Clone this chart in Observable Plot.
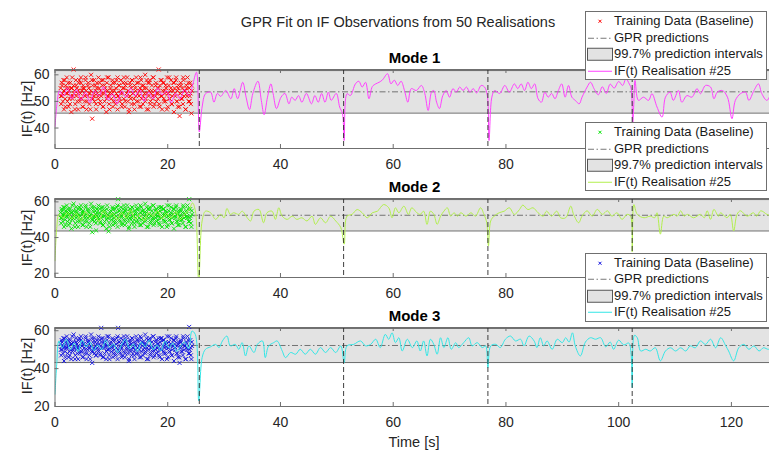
<!DOCTYPE html>
<html><head><meta charset="utf-8">
<script src="https://cdn.jsdelivr.net/npm/d3@7"></script>
<script src="https://cdn.jsdelivr.net/npm/@observablehq/plot@0.6"></script>
<style>
body{margin:0;background:#fff;}
#fig{position:relative;width:769px;height:450px;overflow:hidden;background:#fff;font-family:"Liberation Sans",Arial,sans-serif;color:#262626;}
.abs{position:absolute;white-space:nowrap;line-height:1;}
.title{font-size:14.5px;transform:translate(-50%,-50%);}
.mode{font-size:15px;font-weight:bold;transform:translate(-50%,-50%);color:#000;}
.ylab{font-size:14.5px;transform:translate(-50%,-50%) rotate(-90deg);}
.leg{position:absolute;left:585px;width:180px;height:67px;background:#fff;border:1px solid #6f6f6f;font-size:13px;color:#1a1a1a;}
.row{position:absolute;left:0;width:180px;height:16.5px;line-height:16.5px;}
.row svg{position:absolute;left:1px;top:0;}
.row span{position:absolute;left:28px;top:0;white-space:nowrap;}
</style></head><body><div id="fig"></div>
<script>
// ---------- data ----------
const chartTitle = "GPR Fit on IF Observations from 50 Realisations";
const modes = ["Mode 1", "Mode 2", "Mode 3"];
const yLabel = "IF(t) [Hz]";
const xLabel = "Time [s]";
const legendLabels = ["Training Data (Baseline)", "GPR predictions", "99.7% prediction intervals", "IF(t) Realisation #25"];
const timeRange = [0, 128];
const xTicks = [0, 20, 40, 60, 80, 100, 120];
// tick labels left visible (100 and 120 sit under the legends in panels 1 and 2)
const xTickLabels1 = [0, 20, 40, 60, 80];
const xTickLabels2 = [0, 20, 40, 60, 80];
const xTickLabels3 = [0, 20, 40, 60, 80, 100, 120];
const yTicks1 = [40, 50, 60];
const yTicks2 = [20, 40, 60];
const yTicks3 = [20, 40, 60];
const yDomain1 = [32.3, 62];
const yDomain2 = [17.6, 61.9];
const yDomain3 = [20, 61.7];
const band1 = [45.6, 61.6];
const band2 = [43.7, 61.3];
const band3 = [43.2, 61.2];
const gprMean = [53.6, 52.5, 52.2];
const boundaries = [25.6, 51.2, 76.8, 102.4];
const scatterColors = ["#ff0000", "#00e600", "#1010e0"];
const lineColors = ["#ff40ff", "#b2ef4d", "#33e6e6"];

const trainTime = [1.0,1.1,1.2,1.2,1.3,1.5,1.6,1.6,1.8,1.9,
2.0,2.1,2.2,2.4,2.4,2.5,2.7,2.8,2.9,3.0,
3.1,3.3,3.3,3.4,3.6,3.7,3.8,3.9,4.1,4.1,
4.2,4.4,4.5,4.6,4.7,4.9,4.9,5.0,5.2,5.3,
5.4,5.5,5.6,5.8,5.9,6.0,6.1,6.2,6.4,6.5,
6.6,6.7,6.9,6.9,7.0,7.2,7.3,7.4,7.5,7.7,
7.7,7.9,8.0,8.1,8.2,8.4,8.5,8.5,8.7,8.8,
8.9,9.1,9.2,9.3,9.3,9.5,9.6,9.7,9.9,10.0,
10.1,10.2,10.3,10.5,10.6,10.7,10.8,10.9,11.1,11.1,
11.2,11.4,11.5,11.6,11.7,11.9,11.9,12.1,12.2,12.3,
12.4,12.5,12.7,12.8,12.9,13.0,13.1,13.3,13.3,13.5,
13.6,13.7,13.8,14.0,14.1,14.1,14.3,14.4,14.5,14.7,
14.8,14.9,15.0,15.1,15.3,15.4,15.5,15.6,15.7,15.9,
16.0,16.0,16.2,16.3,16.5,16.6,16.7,16.8,16.9,17.1,
17.2,17.3,17.4,17.5,17.7,17.8,17.9,18.0,18.2,18.3,
18.4,18.5,18.6,18.8,18.9,19.0,19.1,19.3,19.3,19.5,
19.6,19.7,19.9,20.0,20.1,20.2,20.3,20.5,20.6,20.7,
20.8,21.0,21.1,21.2,21.3,21.5,21.6,21.7,21.8,21.9,
22.1,22.2,22.3,22.4,22.6,22.7,22.8,22.9,23.1,23.2,
23.3,23.4,23.5,23.7,23.8,23.9,24.0,24.1,24.2,24.3,
1.05,1.25,1.4,1.55,1.7,1.85,2.05,2.2,2.35,2.55,
2.65,2.85,3.05,3.2,3.45,3.55,3.75,3.95,4.05,4.3,
4.45,4.6,4.8,4.95,5.15,5.35,5.45,5.65,5.85,6.05,
6.25,6.35,6.55,6.75,6.95,7.15,7.25,7.45,7.65,7.85,
8.05,8.25,8.35,8.55,8.75,8.95,9.15,9.25,9.45,9.65,
9.85,10.05,10.25,10.35,10.55,10.75,10.95,11.15,11.35,11.45,
11.65,11.85,12.05,12.25,12.45,12.55,12.75,12.95,13.15,13.35,
13.45,13.65,13.85,14.05,14.25,14.35,14.55,14.75,14.95,15.15,
15.25,15.45,15.65,15.85,16.05,16.25,16.35,16.55,16.75,16.95,
17.15,17.35,17.45,17.65,17.85,18.05,18.25,18.35,18.55,18.75,
18.95,19.15,19.35,19.45,19.65,19.85,20.05,20.25,20.35,20.55,
20.75,20.95,21.15,21.35,21.45,21.65,21.85,22.05,22.25,22.35,
22.55,22.75,22.95,23.15,23.35,23.45,23.65,23.85,24.05,24.25];

const trainMode1 = [55,49,57,52,53,58,47,54,51,56,
53,59,50,55,48,54,57,52,46,55,
51,62,56,53,49,58,52,55,47,54,
57,50,53,59,51,55,48,56,53,50,
58,54,47,52,57,55,49,53,60,51,
43.5,56,52,58,50,54,47,55,53,59,
51,57,49,54,52,56,48,58,53,50,
55,46,57,52,54,59,49,53,56,51,
54,58,48,52,57,50,55,53,47,59,
52,56,50,54,58,49,53,57,51,55,
48,56,53,59,50,54,46,57,52,55,
49,58,53,51,56,47,54,59,50,53,
57,52,48,55,58,51,54,49,56,53,
60,50,55,47,57,52,54,58,49,53,
56,51,59,48,54,52,57,50,55,53,
62,49,56,52,58,47,54,51,57,53,
50,55,59,48,53,56,51,54,58,49,
52,57,46,55,53,59,50,54,48,56,
44.5,53,57,51,55,49,58,52,54,47,
56,53,59,50,55,52,57,49,45.5,54,
52,56,50,54,58,48,55,53,57,51,
49,55,59,52,54,47,56,50,53,58,
51,57,54,48,55,52,59,50,56,53,
47,54,58,51,53,56,49,57,52,55,
50,58,53,48,56,54,51,59,52,47,
55,53,57,50,54,49,58,52,56,51,
53,48,55,59,50,57,52,54,47,56,
51,58,53,49,55,52,57,50,54,59,
48,56,52,55,51,58,53,47,57,50,
54,52,59,49,56,53,51,55,48,58,
52,57,50,54,56,47,53,59,51,55,
49,54,57,52,58,50,55,48,53,56,
51,59,54,47,55,52,57,50,53,56];

const trainMode2 = [54,48,56,51,53,57,46,52,50,55,
52,58,49,54,47,53,56,51,45,54,
50,59,55,52,48,57,51,54,46,53,
56,49,52,58,50,54,47,55,52,49,
57,53,46,51,56,54,48,52,59,50,
43,55,51,57,49,53,44,54,52,58,
50,56,48,53,51,55,47,57,52,49,
54,45,56,51,53,43.5,48,52,55,50,
53,57,47,51,56,49,54,52,46,58,
61.5,55,49,53,57,48,52,56,50,54,
47,55,52,58,49,53,45,56,51,54,
48,57,52,50,55,46,53,58,49,52,
56,51,47,54,57,50,53,48,55,52,
59,49,54,46,56,51,53,57,48,52,
55,50,58,47,53,51,56,49,54,52,
57,48,55,51,57,46,53,50,56,52,
49,54,58,47,52,55,50,53,57,48,
51,56,45,54,52,58,49,53,47,55,
50,52,56,50,54,48,57,51,53,46,
55,52,58,49,61.5,51,56,48,46,53,
51,55,49,53,57,47,54,52,56,50,
48,54,58,51,53,46,55,49,52,57,
50,56,53,47,54,51,58,49,55,52,
46,53,57,50,52,55,48,56,51,54,
49,57,52,47,55,53,50,58,51,46,
54,52,56,49,53,48,57,51,55,50,
52,47,54,58,49,56,51,53,46,55,
50,57,52,48,54,51,56,49,53,58,
47,55,51,54,50,57,52,46,56,49,
53,51,58,48,55,52,50,54,47,57,
51,56,49,53,55,46,52,58,50,54,
48,53,56,51,57,49,54,47,52,55,
50,58,53,46,54,51,56,49,52,55];

const trainMode3 = [53,47,55,50,52,56,44,51,49,54,
51,57,48,53,46,52,55,50,45,53,
49,58,54,51,47,56,50,53,45,52,
55,48,51,57,49,53,46,54,51,48,
56,52,45,50,55,53,47,51,58,49,
43,54,50,56,48,52,47,53,51,57,
49,55,47,52,61.5,54,46,56,51,48,
53,45,55,50,52,57,47,51,54,49,
52,56,46,50,55,48,53,51,45,57,
61.5,54,48,52,56,47,51,55,49,53,
46,54,51,57,48,52,44,55,50,53,
47,56,51,49,54,45,52,57,48,51,
55,50,46,53,56,49,52,47,54,51,
58,48,53,45,55,50,52,56,47,51,
54,49,57,46,52,50,55,48,53,51,
56,47,54,50,56,45,52,49,55,51,
48,53,57,46,51,54,49,52,56,47,
50,55,44,53,51,57,48,52,46,54,
43,51,55,49,53,47,56,50,52,45,
54,51,57,48,62,50,55,47,45,52,
50,54,48,52,56,46,53,51,55,49,
47,53,57,50,52,45,54,48,51,56,
49,55,52,46,53,50,57,48,54,51,
45,52,56,49,51,54,47,55,50,53,
48,56,51,46,54,52,49,57,50,45,
53,51,55,48,52,47,56,50,54,49,
51,46,53,57,48,55,50,52,45,54,
49,56,51,47,53,50,55,48,52,57,
46,54,50,53,49,56,51,45,55,48,
52,50,57,47,54,51,49,53,46,56,
50,55,48,52,54,45,51,57,49,53,
47,52,55,50,56,48,53,46,51,54,
49,57,52,45,53,50,55,48,51,54];

const lineMode1 = [[0,40.5],[0.4,50],[0.8,54],[1.5,52],[2.2,55],[3,51],[3.8,54.5],[4.6,50.5],[5.4,53.5],[6.2,49.5],[7,54],[7.8,52],[8.6,55.5],[9.4,50.5],[10.2,53],[11,49],[11.8,54],[12.6,51.5],[13.4,55],[14.2,52],[15,54.5],[15.8,50],[16.6,53.5],[17.4,51],[18.2,55],[19,52.5],[19.8,54],[20.6,49.5],[21.4,53],[22.2,51],[23,54.5],[23.8,52],[24.4,56],[25.1,61],[25.6,38.5],[26.1,47.9],[26.7,52.9],[27.6,53.5],[28.2,49.7],[28.8,53],[29.4,51.9],[30.3,54.1],[31.2,51],[31.8,54.8],[32.4,51],[33.3,57.2],[33.9,51.6],[34.5,46.9],[35.1,53],[36,57.6],[36.6,50.4],[37.1,45],[37.7,51.6],[38.3,56.6],[38.7,52.9],[39.3,47.3],[40.1,51.6],[40.8,53],[41.5,49.1],[42,51.6],[42.6,50.4],[43.2,52.2],[43.8,49.7],[44.6,53],[45.5,49.1],[46.1,52.2],[46.7,49.7],[47.3,53],[47.9,49.7],[48.5,53.5],[49,50.4],[49.9,53],[50.5,47.9],[51,45.4],[51.3,35.3],[51.8,52.9],[52.4,52.2],[53.3,56.6],[53.9,57.6],[54.5,55.4],[55.1,57.2],[55.7,51],[56.3,55.6],[56.9,56.6],[57.5,57.2],[58.1,58.1],[59,60.4],[59.6,56.6],[60.2,58],[60.8,56],[61.4,57.6],[62,54.1],[62.6,49.7],[63.2,54.8],[64.1,54.1],[65,56],[65.6,53],[66.2,46.6],[66.8,53.5],[67.2,54.1],[67.7,49.7],[68.2,47.3],[68.8,52.2],[69.4,54.1],[70,51.6],[70.6,54.8],[71.2,53.5],[71.8,55.4],[72.4,54.1],[73,55.4],[73.6,53.5],[74.2,54.8],[74.8,53.2],[75.6,56],[76.2,55.4],[76.7,52.2],[77,35.3],[77.5,51.6],[78,54.1],[78.9,53],[79.8,56],[80.6,53.5],[81.5,56.6],[82.1,54.8],[82.7,56.6],[83.3,54.1],[83.9,57.2],[84.5,54.8],[85.1,56.6],[85.7,51],[86.3,49.7],[86.9,53.5],[87.5,51.6],[88.1,53],[88.7,51],[89.3,54.1],[89.9,56.6],[90.5,51.6],[91.1,56],[91.7,51.6],[92.3,50.4],[93,49.1],[93.5,51.6],[94.4,55.4],[95,57.2],[95.7,54.5],[96.4,52.5],[97.1,55.5],[97.8,53],[98.5,56.5],[99.2,55],[100,57.5],[100.7,56],[101.3,58.5],[101.9,56.5],[102.2,55],[102.5,42],[102.7,50],[102.9,57.9],[103.5,50.4],[104.4,51.6],[105.3,50.4],[105.9,52.9],[106.8,47.9],[107.7,44.1],[108.3,51.6],[109.1,53.5],[109.7,50.4],[110.6,54.1],[111.2,49.7],[112.1,52.2],[113,51.6],[113.9,54.8],[114.5,52.9],[115.4,56],[116.3,55.4],[116.9,51],[117.5,53.5],[118.4,54.1],[119.3,51.6],[120.1,43.5],[120.7,50.4],[121.6,52.9],[122.5,53.5],[123.1,50.4],[124,54.1],[124.8,56.6],[125.4,52.9],[126.3,50.4],[127.2,53],[128,52]];

const lineMode2 = [[0,27],[0.3,45],[0.7,53],[1.4,51],[2.2,54],[3,50.5],[3.8,53.5],[4.6,49.5],[5.4,54.5],[6.2,51],[7,53],[7.8,49],[8.6,55],[9.4,51.5],[10.2,53.5],[11,50],[11.8,54],[12.6,51],[13.4,55.5],[14.2,50.5],[15,53],[15.8,49.5],[16.6,54],[17.4,52],[18.2,55],[19,50.5],[19.8,53.5],[20.6,51],[21.4,54.5],[22.2,50],[23,53],[23.7,55],[24.4,59.4],[24.9,55],[25.5,15],[26.1,49.3],[26.7,54.8],[27.6,53.9],[28.5,50.2],[29.4,53],[30,51.1],[30.5,56.3],[31.1,53],[31.7,53.9],[32.6,53],[33.2,54.8],[34.1,51.1],[34.7,49.3],[35.3,54.8],[36.2,55.7],[37,48.3],[37.6,53.9],[38.5,54.8],[39.1,50.2],[39.7,56.7],[40.3,52],[41.2,50.2],[42.1,52],[42.9,50.2],[43.8,51.1],[44.7,49.3],[45.6,52],[46.2,47.4],[47.1,51.1],[48,48.3],[48.9,52],[49.8,49.3],[50.7,45.6],[51.3,36.3],[51.8,52],[52.7,53],[53.6,55.7],[54.5,53.9],[55.4,51.1],[56.3,53.9],[57.2,54.8],[58.3,58.5],[59.2,56.7],[59.8,51.1],[60.4,56.7],[61,53.9],[61.9,57.6],[62.7,53],[63.3,56.7],[64.2,53.9],[64.8,53],[65.4,54.8],[66,47.4],[66.6,54.8],[67.2,53],[67.8,47.4],[68.4,52],[69,54.8],[69.6,56.7],[70.2,52],[70.8,53.9],[71.4,52],[72,53.9],[72.9,52],[73.8,53.9],[74.6,52],[75.5,56.7],[76.1,53],[76.6,48.3],[76.9,35.4],[77.3,49.3],[77.9,52],[78.8,53.9],[79.7,54.8],[80.6,56.7],[81.5,53],[82.4,55.7],[83,58.2],[83.9,55.7],[84.8,56.7],[85.7,53.9],[86.6,52],[87.2,54.8],[88.1,52],[89,54.8],[89.7,51.1],[90.6,51.1],[91.5,57.6],[92,53],[92.9,48.3],[93.5,52],[94.4,55],[95.3,52],[96.2,55.8],[97.1,53],[98,55],[98.8,52],[99.7,53.9],[100.6,50.2],[101.5,53],[102.1,52],[102.4,32],[102.7,58.5],[103.3,53],[104.5,51.1],[105.6,52],[106.4,51.1],[106.8,53.9],[107.4,41.9],[108,52],[108.6,51.1],[109.8,53],[110.4,52],[111,55],[111.6,52],[112.2,53],[113.3,51.1],[114.5,53],[115.2,51.1],[115.7,55],[116.3,50.2],[116.9,55.8],[117.7,52],[118.1,53.9],[119.2,51.1],[119.8,53],[120.4,43.7],[121,53],[121.6,55],[122.8,52],[123.9,53.9],[124.5,52],[125.2,55],[126.3,53],[127.2,52],[128,53]];

const lineMode3 = [[0,26.5],[0.3,42],[0.7,54.6],[1.3,51],[2,55.5],[2.7,50],[3.4,53.5],[4.1,49],[4.8,55],[5.5,51.5],[6.2,54],[6.9,49.5],[7.6,52.5],[8.3,50],[9,55],[9.7,51],[10.4,53],[11.1,48.5],[11.8,52.5],[12.5,55.5],[13.2,50.5],[13.9,53],[14.6,49],[15.3,54],[16,51.5],[16.7,55],[17.4,50],[18.1,52.5],[18.8,49.5],[19.5,54.5],[20.2,51],[20.9,53.5],[21.6,49],[22.3,52],[23,54],[23.7,50.5],[24.3,59.8],[24.9,58],[25.5,23],[26.1,45.8],[26.7,50.2],[27.6,51.5],[28.5,52.8],[29.1,51.1],[29.7,54.6],[30.5,57.2],[31.1,52],[32,52.8],[32.6,50.2],[33.2,53.7],[33.8,46.7],[34.4,52],[35.3,48.5],[35.9,52.8],[36.8,54.6],[37.3,45.8],[37.9,52],[38.8,53.7],[39.4,54.6],[40.3,49.4],[40.9,45.8],[41.8,48.5],[42.7,47.6],[43.5,50.2],[44.4,47.6],[45.3,50.2],[46.2,47.6],[47.1,51.1],[48,48.5],[48.9,51.1],[49.8,48.5],[50.7,52],[51.3,43.2],[51.8,52],[53,52.8],[54.2,54.6],[55.1,52],[56,52.8],[56.9,55.5],[57.7,51.1],[58.6,58.1],[59.2,55.5],[59.8,58.9],[60.4,53.7],[61,56.3],[61.6,49.3],[62.5,55.5],[63.4,51.1],[64.2,54.6],[64.8,49.3],[65.4,54.6],[66,46.7],[66.6,55.5],[67.2,52.8],[67.8,47.6],[68.4,56.3],[69,51.1],[69.7,56.3],[70.3,50.2],[71.1,53.7],[71.6,51.1],[72.5,53.7],[73.4,56.3],[74,52],[74.9,53.7],[75.8,51.1],[76.4,52],[76.8,40.5],[77.3,52],[78.2,52.8],[79,51.1],[79.9,55.5],[80.8,57.2],[81.7,54.6],[82.6,55.5],[83.2,52],[84.1,57.2],[85,54.6],[85.5,51.1],[86.1,56.3],[86.7,52],[87.3,54.6],[88.2,50.2],[89.1,55.5],[90,53.7],[90.6,56.3],[91.2,54],[91.8,58.9],[92.3,52],[93.2,46.7],[94.1,54],[95,56.3],[95.9,55.5],[96.8,56.3],[97.7,51.5],[98.5,54],[99.1,50.2],[100,55],[100.9,52.5],[101.8,53.5],[102.2,47.6],[102.4,30],[102.8,57.6],[103.3,56.3],[103.9,49.3],[104.8,50.2],[105.6,49.3],[106.5,51],[107.4,44.1],[108.3,49.3],[109.2,51],[110.1,49.3],[111,51],[111.9,49.3],[112.7,52],[113.6,51],[114.5,54.6],[115.4,52.8],[116.3,55.5],[117.2,51],[118.1,56.3],[119,52],[119.5,49.3],[120.4,44.1],[121.3,51],[122.2,52.8],[123.1,50.2],[124,52],[124.9,49.3],[125.7,51],[126.6,50.2],[127.4,52],[128,51]];

// ---------- assembly ----------
const trainValues = [trainMode1, trainMode2, trainMode3];
const lineValues = [lineMode1, lineMode2, lineMode3];
const bands = [band1, band2, band3];
const yDomains = [yDomain1, yDomain2, yDomain3];
const yTicks = [yTicks1, yTicks2, yTicks3];
const xTickLabels = [xTickLabels1, xTickLabels2, xTickLabels3];

const fig = document.getElementById("fig");
function addText(cls, text, x, y) {
  const d = document.createElement("div");
  d.className = "abs " + cls;
  d.textContent = text;
  d.style.left = x + "px";
  d.style.top = y + "px";
  fig.appendChild(d);
}

const W = 776, ML = 54.5, MT = 10, MB = 30, BOXH = 79;
const boxTops = [69, 198.3, 326.7];
const axisColor = "#6f6f6f";

function panel(i) {
  const train = trainTime.map((t, k) => ({t, v: trainValues[i][k]}));
  const line = lineValues[i].map(([t, v]) => ({t, v}));
  const bandRow = [{x1: timeRange[0], x2: timeRange[1], lo: bands[i][0], hi: bands[i][1]}];
  const boxW = W - ML;
  const svg = Plot.plot({
    width: W, height: BOXH + MT + MB,
    marginLeft: ML, marginRight: 0, marginTop: MT, marginBottom: MB,
    x: {domain: timeRange},
    y: {domain: yDomains[i]},
    style: {background: "transparent", maxWidth: "none", overflow: "visible",
            fontFamily: "'Liberation Sans', Arial, sans-serif", fontSize: "14px", color: "#262626"},
    marks: [
      Plot.rect(bandRow, {x1: "x1", x2: "x2", y1: "lo", y2: "hi", fill: "#e3e3e3"}),
      Plot.ruleY(bands[i], {stroke: "#6a6a6a", strokeWidth: 1}),
      Plot.ruleY([gprMean[i]], {stroke: "#555", strokeWidth: 0.8, strokeDasharray: "6,2.5,1.5,2.5"}),
      Plot.dot(train, {x: "t", y: "v", symbol: "times", r: 2.0, stroke: scatterColors[i], strokeWidth: 0.9}),
      Plot.line(line, {x: "t", y: "v", stroke: lineColors[i], strokeWidth: 1, curve: "catmull-rom", clip: true}),
      Plot.ruleX(boundaries, {stroke: "#2a2a2a", strokeWidth: 0.9, strokeDasharray: "5,3"}),
      Plot.frame({stroke: axisColor}),
      Plot.ruleX(xTicks, {stroke: axisColor, insetTop: BOXH - 4}),
      Plot.ruleX(xTicks, {stroke: axisColor, insetBottom: BOXH - 4}),
      Plot.ruleY(yTicks[i], {stroke: axisColor, insetRight: boxW - 4}),
      Plot.axisX(xTickLabels[i], {tickSize: 0, tickPadding: 11, label: null, fontSize: 14}),
      Plot.axisY(yTicks[i], {tickSize: 0, tickPadding: 5.5, label: null, fontSize: 14})
    ]
  });
  svg.style.position = "absolute";
  svg.style.left = "0px";
  svg.style.top = (boxTops[i] - MT) + "px";
  fig.appendChild(svg);
}

function legend(i, top) {
  const L = document.createElement("div");
  L.className = "leg";
  L.style.top = top + "px";
  const samples = [
    `<path d="M11.5,6.75l3,3m-3,0l3,-3" stroke="${scatterColors[i]}" stroke-width="1" fill="none"/>`,
    `<line x1="1" x2="25" y1="8.25" y2="8.25" stroke="#555" stroke-width="0.8" stroke-dasharray="6,2.5,1.5,2.5"/>`,
    `<rect x="0.5" y="2.25" width="25" height="12" fill="#e3e3e3" stroke="#555" stroke-width="1"/>`,
    `<line x1="1" x2="25" y1="8.25" y2="8.25" stroke="${lineColors[i]}" stroke-width="1"/>`
  ];
  samples.forEach((s, k) => {
    const r = document.createElement("div");
    r.className = "row";
    r.style.top = (1.35 + 16.5 * k) + "px";
    r.innerHTML = `<svg width="27" height="16.5">${s}</svg><span></span>`;
    r.querySelector("span").textContent = legendLabels[k];
    L.appendChild(r);
  });
  fig.appendChild(L);
}

[0, 1, 2].forEach(panel);

addText("title", chartTitle, 398, 22);
const modeY = [57, 185.5, 315];
modes.forEach((m, i) => addText("mode", m, 414.5, modeY[i]));
boxTops.forEach(t => addText("ylab", yLabel, 27, t + BOXH / 2));
addText("title", xLabel, 414, 441.5);

[11, 121.7, 252.5].forEach((t, i) => legend(i, t));
</script></body></html>
